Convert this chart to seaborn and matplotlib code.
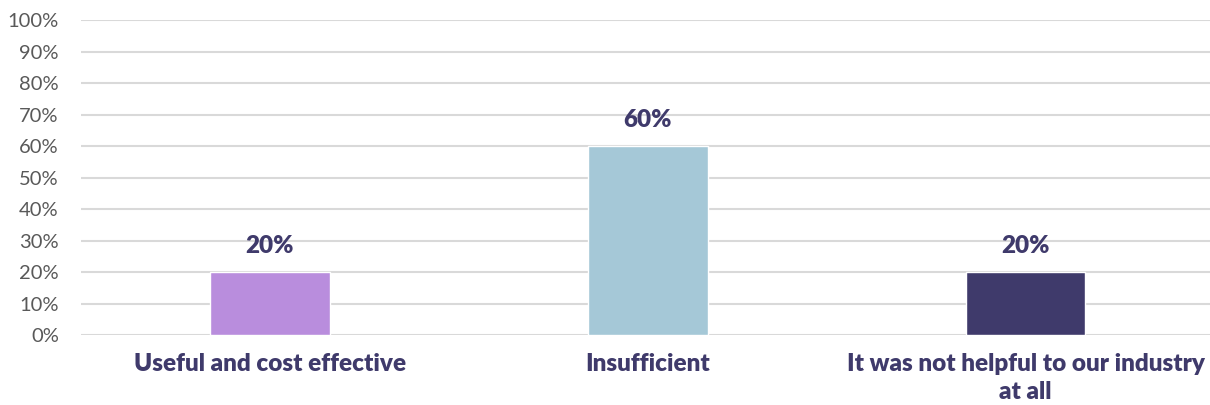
import matplotlib
matplotlib.use('Agg')
import matplotlib.pyplot as plt
import seaborn as sns
import pandas as pd
from matplotlib.ticker import PercentFormatter

categories = ['Useful and cost effective', 'Insufficient',
              'It was not helpful to our industry\nat all']
values = [20, 60, 20]
colors = ['#B98DDD', '#A5C8D7', '#3F3A6B']

df = pd.DataFrame({'category': categories, 'value': values})

sns.set_style('white')
plt.rcParams['font.family'] = ['Lato', 'DejaVu Sans']

fig = plt.figure(figsize=(12.1, 4.05), dpi=100)
ax = fig.add_axes([0.067, 0.1728, 0.9366, 0.7778])

sns.barplot(data=df, x='category', y='value', hue='category', palette=colors,
            width=0.317, legend=False, ax=ax, saturation=1)

ax.set_ylim(0, 100)
ax.set_yticks(range(0, 101, 10))
ax.yaxis.set_major_formatter(PercentFormatter(decimals=0))
ax.grid(axis='y', color='#D9D9D9', linewidth=1.5)
ax.set_axisbelow(True)
for s in ax.spines.values():
    s.set_visible(False)
ax.set_xlabel('')
ax.set_ylabel('')
ax.tick_params(axis='y', labelsize=14.5, labelcolor='#595959', length=0, pad=16)
ax.tick_params(axis='x', length=0, pad=13)
for lbl in ax.get_xticklabels():
    lbl.set_fontsize(17.5)
    lbl.set_fontweight('heavy')
    lbl.set_color('#3F3A6B')
    lbl.set_verticalalignment('top')
    lbl.set_linespacing(1.35)

for p, v in zip(ax.patches, values):
    ax.annotate(f'{v}%', (p.get_x() + p.get_width() / 2, p.get_height()),
                xytext=(0, 11), textcoords='offset points', ha='center', va='bottom',
                fontsize=17.5, fontweight='heavy', color='#3F3A6B')

fig.savefig('out.png', dpi=100)
